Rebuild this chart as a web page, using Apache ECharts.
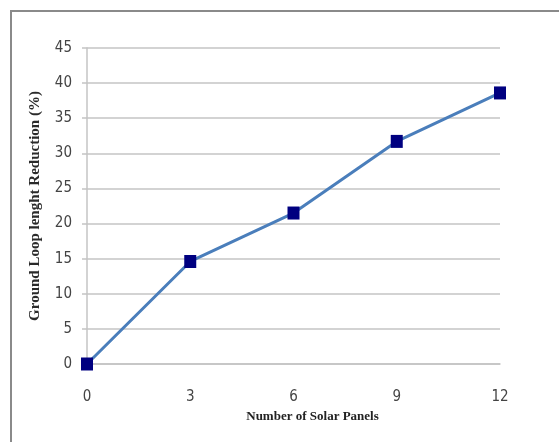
<!DOCTYPE html>
<html>
<head>
<meta charset="utf-8">
<script src="https://cdn.jsdelivr.net/npm/echarts@6/dist/echarts.min.js"></script>
<style>html,body{margin:0;padding:0;background:#fff;}#c{width:559px;height:442px;}</style>
</head>
<body>
<div id="c"></div>
<script>
const panels = [0, 3, 6, 9, 12];
const reduction = [0, 14.6, 21.5, 31.7, 38.6];
const yTicks = { min: 0, max: 45, interval: 5 };
const xTicks = { min: 0, max: 12, interval: 3 };

const chart = echarts.init(document.getElementById('c'), null, { renderer: 'canvas' });
const numFont = '"Liberation Sans Narrow", "DejaVu Sans Condensed", "Open Sans", sans-serif';
chart.setOption({
  animation: false,
  backgroundColor: '#ffffff',
  graphic: [{
    type: 'rect',
    shape: { x: 11, y: 11, width: 620, height: 520 },
    style: { fill: 'none', stroke: '#8a8a8a', lineWidth: 2 },
    silent: true
  }],
  grid: { left: 87, right: 59, top: 48, bottom: 78 },
  xAxis: {
    type: 'value',
    min: xTicks.min, max: xTicks.max, interval: xTicks.interval,
    name: 'Number of Solar Panels',
    nameLocation: 'middle',
    nameGap: 45,
    nameTextStyle: { fontFamily: '"Liberation Serif", "DejaVu Serif", serif', fontWeight: 'bold', fontSize: 13, color: '#222', padding: [0, 0, 0, 38] },
    axisLine: { show: true, lineStyle: { color: '#c4c4c4', width: 1.5 } },
    axisTick: { show: false },
    splitLine: { show: false },
    axisLabel: { margin: 26, fontFamily: numFont, fontSize: 15, color: '#444' }
  },
  yAxis: {
    type: 'value',
    min: yTicks.min, max: yTicks.max, interval: yTicks.interval,
    name: 'Ground Loop lenght Reduction (%)',
    nameLocation: 'middle',
    nameGap: 44,
    nameRotate: 90,
    nameTextStyle: { fontFamily: '"Liberation Serif", "DejaVu Serif", serif', fontWeight: 'bold', fontSize: 15, color: '#2a2a2a' },
    axisLine: { show: true, lineStyle: { color: '#c4c4c4', width: 1.5 } },
    axisTick: { show: true, length: 5, lineStyle: { color: '#c4c4c4', width: 1.5 } },
    splitLine: { show: true, lineStyle: { color: '#c4c4c4', width: 1.5 } },
    axisLabel: { margin: 15, fontFamily: numFont, fontSize: 15, color: '#444' }
  },
  series: [{
    type: 'line',
    data: panels.map((p, i) => [p, reduction[i]]),
    lineStyle: { color: '#4a7ebb', width: 3 },
    itemStyle: { color: '#000080' },
    symbol: 'rect',
    symbolSize: [12, 13],
    showSymbol: true
  }]
});
</script>
</body>
</html>
